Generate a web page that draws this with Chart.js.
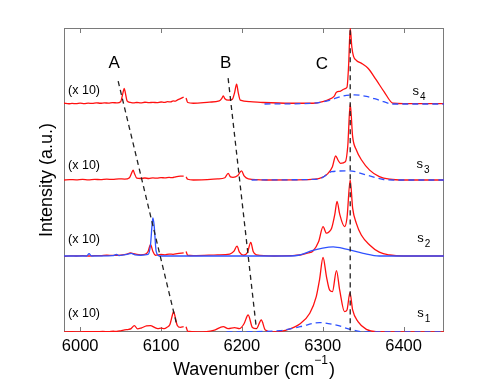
<!DOCTYPE html>
<html>
<head>
<meta charset="utf-8">
<script src="https://cdn.jsdelivr.net/npm/chart.js@4/dist/chart.umd.min.js"></script>
<style>
  html, body { margin: 0; padding: 0; background: #fff; }
</style>
</head>
<body>
<canvas id="spectra" width="491" height="381"></canvas>
<script>
// wavenumber (cm-1), intensity (normalised); low segments are already x10
const tickValues = [6000, 6100, 6200, 6300, 6400];
const stackOffset = [0, 1, 2, 3]; // s1..s4

const s1Low = [[5980, 0], [5990, 0.004], [6000, 0.001], [6010, 0.005], [6020, 0.003], [6028, 0.007],
  [6035, 0.005], [6041, 0.01], [6045, 0.008], [6050, 0.016], [6055, 0.028], [6060, 0.035],
  [6063, 0.045], [6067, 0.085], [6071, 0.04], [6076, 0.055], [6082, 0.08], [6087, 0.085], [6092, 0.06],
  [6096, 0.045], [6100, 0.05], [6104, 0.045], [6107, 0.06], [6111, 0.1], [6114, 0.22], [6115.5, 0.27],
  [6117, 0.22], [6120, 0.09], [6124, 0.06], [6128, 0.07]];
const s1High = [[6131, 0.07], [6133, 0.01], [6145, 0.0], [6165, 0.02], [6177, 0.07], [6183, 0.044],
  [6191, 0.057], [6197, 0.044], [6202.5, 0.105], [6207.8, 0.224], [6213, 0.06], [6218, 0.044],
  [6224, 0.158], [6229, 0.026], [6238.7, 0.0], [6255, 0.026], [6271.6, 0.105], [6284, 0.246],
  [6292, 0.465], [6296, 0.684], [6300.4, 0.98], [6304.6, 0.73], [6308.6, 0.55], [6312, 0.53],
  [6317, 0.807], [6321, 0.55], [6327, 0.267], [6330, 0.29], [6333.7, 0.517], [6337, 0.29],
  [6343.6, 0.136], [6354, 0.035], [6366, 0.005], [6450, 0]];
const s1Fit = [[6181, 0], [6247, 0.018], [6272, 0.07], [6296, 0.123], [6317, 0.09], [6337, 0.026],
  [6354, 0], [6450, 0]];

const s2Low = [[5980, -0.005], [5988, 0.002], [5995, 0], [6003, 0.004], [6010, 0], [6018, 0.006],
  [6025, 0.004], [6033, 0.01], [6040, 0.007], [6050, 0.012], [6058, 0.025], [6062, 0.04], [6066, 0.03],
  [6070, 0.02], [6075, 0.015], [6080, 0.02], [6084, 0.06], [6087, 0.15], [6090, 0.06], [6093, 0.01],
  [6100, 0.02], [6105, 0.016], [6110, 0.025], [6115, 0.022], [6120, 0.03], [6128, 0.04]];
const s2High = [[6131, 0.06], [6133, 0.01], [6140, 0.005], [6170, 0.015], [6185, 0.026], [6190, 0.06],
  [6194, 0.13], [6197, 0.05], [6202, 0.01], [6207, 0.05], [6211, 0.18], [6214, 0.06], [6218, 0.015],
  [6240, 0], [6260, 0.005], [6272, 0.013], [6282, 0.04], [6288, 0.066], [6295, 0.19], [6300.4, 0.386],
  [6304.6, 0.3], [6308, 0.32], [6311, 0.364], [6315, 0.55], [6317.7, 0.72], [6321, 0.55], [6327, 0.386],
  [6330, 0.5], [6334, 1.0], [6337, 0.63], [6341.6, 0.43], [6347.7, 0.276], [6358, 0.145], [6370, 0.05],
  [6383, 0.013], [6400, 0], [6450, 0]];
const s2Blue = [[5980, 0], [6008, 0], [6011, 0.03], [6014, 0], [6040, 0.005], [6045, 0.02], [6048, 0.005],
  [6058, 0.02], [6063, 0.035], [6068, 0.015], [6075, 0.01], [6084, 0.02], [6087, 0.15], [6089, 0.42],
  [6090, 0.5], [6091.5, 0.4], [6094, 0.06], [6098, 0], [6260, 0], [6270, 0.01], [6288, 0.075],
  [6300, 0.105], [6313, 0.12], [6329, 0.09], [6350, 0.035], [6370, 0], [6450, 0]];

const s3Low = [[5980, 0], [5987, 0.006], [5995, 0.002], [6003, 0.007], [6010, 0.001], [6018, 0.008],
  [6025, 0.005], [6033, 0.011], [6040, 0.008], [6048, 0.016], [6055, 0.012], [6061, 0.03], [6064, 0.1],
  [6065.5, 0.13], [6067, 0.09], [6070, 0.025], [6075, 0.02], [6080, 0.026], [6085, 0.02], [6090, 0.028],
  [6095, 0.024], [6100, 0.032], [6105, 0.027], [6110, 0.034], [6114, 0.03], [6118, 0.042], [6124, 0.05],
  [6128, 0.05]];
const s3High = [[6131, 0.04], [6133, 0.01], [6140, 0], [6170, 0.015], [6179, 0.03], [6183, 0.088],
  [6186, 0.04], [6189, 0.035], [6195, 0.06], [6199.5, 0.12], [6203, 0.05], [6208, 0.015], [6230, 0],
  [6280, 0.005], [6296, 0.02], [6306, 0.08], [6312, 0.175], [6316, 0.316], [6319, 0.26], [6322, 0.22],
  [6328, 0.24], [6331, 0.45], [6334, 1.0], [6337, 0.57], [6341.6, 0.395], [6348, 0.263], [6358, 0.13],
  [6370, 0.045], [6383, 0.01], [6400, 0], [6450, 0]];
const s3Fit = [[6212, 0], [6260, 0.003], [6296, 0.015], [6305, 0.07], [6311, 0.11], [6333, 0.12],
  [6354, 0.065], [6374, 0.01], [6390, 0], [6450, 0]];

const s4Low = [[5980, 0.01], [5986, 0.003], [5990, 0.008], [5995, 0.004], [6000, 0.012], [6005, 0.006],
  [6010, 0.011], [6015, 0.007], [6020, 0.016], [6025, 0.01], [6030, 0.015], [6035, 0.011],
  [6040, 0.019], [6046, 0.014], [6050, 0.03], [6053, 0.15], [6054.5, 0.205], [6056, 0.14], [6058, 0.04],
  [6062, 0.02], [6066, 0.014], [6070, 0.02], [6075, 0.015], [6080, 0.023], [6085, 0.017], [6090, 0.022],
  [6095, 0.018], [6100, 0.026], [6104, 0.021], [6108, 0.03], [6112, 0.028], [6115, 0.04], [6118, 0.038],
  [6120, 0.05], [6124, 0.07], [6128, 0.09]];
const s4High = [[6131, 0.08], [6133, 0.02], [6140, 0.01], [6160, 0.025], [6172, 0.04], [6175, 0.07],
  [6177, 0.105], [6179, 0.07], [6183, 0.05], [6188, 0.06], [6191, 0.15], [6193.5, 0.26], [6195.5, 0.15],
  [6198, 0.05], [6210, 0.03], [6226, 0.02], [6260, 0.01], [6288, 0.01], [6300, 0.03], [6308, 0.06],
  [6314, 0.1], [6317, 0.155], [6322, 0.17], [6327, 0.2], [6330, 0.22], [6332, 0.5], [6334, 1.0],
  [6336, 0.75], [6338, 0.63], [6342, 0.57], [6348, 0.535], [6356, 0.47], [6366, 0.32], [6376, 0.16],
  [6387, 0.01], [6400, 0.005], [6450, 0.005]];
const s4Fit = [[6228, 0], [6288, 0.01], [6308.6, 0.05], [6325, 0.105], [6339.5, 0.12], [6354, 0.1],
  [6370, 0.05], [6387, 0], [6450, 0]];

// guide lines A, B, C (already in stacked coordinates)
const guideA = [[6047, 3.3], [6119, 0.115]];
const guideB = [[6183, 3.34], [6218, 0.04]];
const guideC = [[6334, 3.97], [6334, 0.02]];

const RED = "#ff1010";
const BLUE = "#2f52ff";
const FONT = "'Liberation Sans', Arial, Helvetica, sans-serif";

const toPoints = (pts, offset = 0) => pts.map(([w, v]) => ({ x: w, y: v + offset }));

const curve = (pts, offset, color, dash, order) => ({
  data: toPoints(pts, offset),
  borderColor: color,
  borderWidth: 1.3,
  borderDash: dash || [],
  pointRadius: 0,
  showLine: true,
  fill: false,
  cubicInterpolationMode: "monotone",
  order: order,
});

const datasets = [
  curve(guideA, 0, "#222", [5, 4], 0),
  curve(guideB, 0, "#222", [5, 4], 0),
  curve(guideC, 0, "#222", [5, 4], 0),
  curve(s1Fit, stackOffset[0], BLUE, [6, 4], 1),
  curve(s3Fit, stackOffset[2], BLUE, [6, 4], 1),
  curve(s4Fit, stackOffset[3], BLUE, [6, 4], 1),
  curve(s2Blue, stackOffset[1], BLUE, null, 2),
  curve(s1Low, stackOffset[0], RED, null, 3),
  curve(s1High, stackOffset[0], RED, null, 3),
  curve(s2Low, stackOffset[1], RED, null, 3),
  curve(s2High, stackOffset[1], RED, null, 3),
  curve(s3Low, stackOffset[2], RED, null, 3),
  curve(s3High, stackOffset[2], RED, null, 3),
  curve(s4Low, stackOffset[3], RED, null, 3),
  curve(s4High, stackOffset[3], RED, null, 3),
];

// text annotations, in data coordinates
const peakLabels = [["A", 6042, 3.48], ["B", 6180, 3.48], ["C", 6299, 3.46]];
const scaleNotes = [[5985, 0.237], [5985, 1.22], [5985, 2.184], [5985, 3.175]];
const sampleNames = [["1", 6417, 0.2], ["2", 6417, 1.19], ["3", 6416, 2.16], ["4", 6411, 3.12]];

const frame = {
  id: "frame",
  beforeDatasetsDraw(chart) {
    const { ctx, chartArea: a, scales } = chart;
    ctx.save();
    ctx.strokeStyle = "#7a7a7a";
    ctx.lineWidth = 1;
    ctx.strokeRect(a.left + 0.5, a.top + 0.5, a.right - a.left - 1, a.bottom - a.top - 1);
    tickValues.forEach((v) => {
      const px = Math.round(scales.x.getPixelForValue(v)) + 0.5;
      ctx.beginPath();
      ctx.moveTo(px, a.bottom);
      ctx.lineTo(px, a.bottom - 5);
      ctx.moveTo(px, a.top);
      ctx.lineTo(px, a.top + 5);
      ctx.stroke();
    });
    ctx.restore();
  },
  afterDatasetsDraw(chart) {
    const { ctx, chartArea: a, scales: { x, y } } = chart;
    ctx.save();
    ctx.fillStyle = "#000";

    ctx.font = "17px " + FONT;
    ctx.textAlign = "center";
    ctx.textBaseline = "alphabetic";
    peakLabels.forEach(([t, w, v]) => ctx.fillText(t, x.getPixelForValue(w), y.getPixelForValue(v)));

    ctx.font = "12.5px " + FONT;
    ctx.textAlign = "left";
    ctx.textBaseline = "middle";
    scaleNotes.forEach(([w, v]) => ctx.fillText("(x 10)", x.getPixelForValue(w), y.getPixelForValue(v)));

    ctx.textBaseline = "alphabetic";
    sampleNames.forEach(([n, w, v]) => {
      const px = x.getPixelForValue(w);
      const py = y.getPixelForValue(v);
      ctx.font = "13px " + FONT;
      ctx.fillText("s", px, py);
      const sw = ctx.measureText("s").width;
      ctx.font = "10px " + FONT;
      ctx.fillText(n, px + sw + 1, py + 5);
    });

    // x title with superscript
    ctx.font = "18px " + FONT;
    const main = "Wavenumber (cm";
    const mw = ctx.measureText(main).width;
    const cw = ctx.measureText(")").width;
    ctx.font = "12px " + FONT;
    const sup = "\u22121";
    const sw = ctx.measureText(sup).width;
    const total = mw + sw + cw + 1;
    let tx = (a.left + a.right) / 2 - total / 2;
    const ty = a.bottom + 43;
    ctx.font = "18px " + FONT;
    ctx.fillText(main, tx, ty);
    ctx.font = "12px " + FONT;
    ctx.fillText(sup, tx + mw, ty - 11.5);
    ctx.font = "18px " + FONT;
    ctx.fillText(")", tx + mw + sw + 1, ty);

    // y title
    ctx.translate(47, (a.top + a.bottom) / 2);
    ctx.rotate(-Math.PI / 2);
    ctx.textAlign = "center";
    ctx.textBaseline = "middle";
    ctx.fillText("Intensity (a.u.)", 0, 0);
    ctx.restore();
  },
};

new Chart(document.getElementById("spectra"), {
  type: "scatter",
  data: { datasets },
  options: {
    responsive: false,
    animation: false,
    devicePixelRatio: 1,
    layout: { padding: { left: 64, right: 47, top: 28, bottom: 0 } },
    plugins: { legend: { display: false }, tooltip: { enabled: false } },
    scales: {
      x: {
        type: "linear",
        min: 5980,
        max: 6450,
        afterBuildTicks: (s) => { s.ticks = tickValues.map((v) => ({ value: v })); },
        afterFit: (s) => { s.height = 49; },
        grid: { display: false, drawTicks: false },
        border: { display: false },
        ticks: {
          color: "#000",
          padding: 5,
          maxRotation: 0,
          font: { family: FONT, size: 16.5 },
          callback: (v) => String(v),
        },
      },
      y: { display: false, min: 0, max: 4 },
    },
  },
  plugins: [frame],
});
</script>
</body>
</html>
